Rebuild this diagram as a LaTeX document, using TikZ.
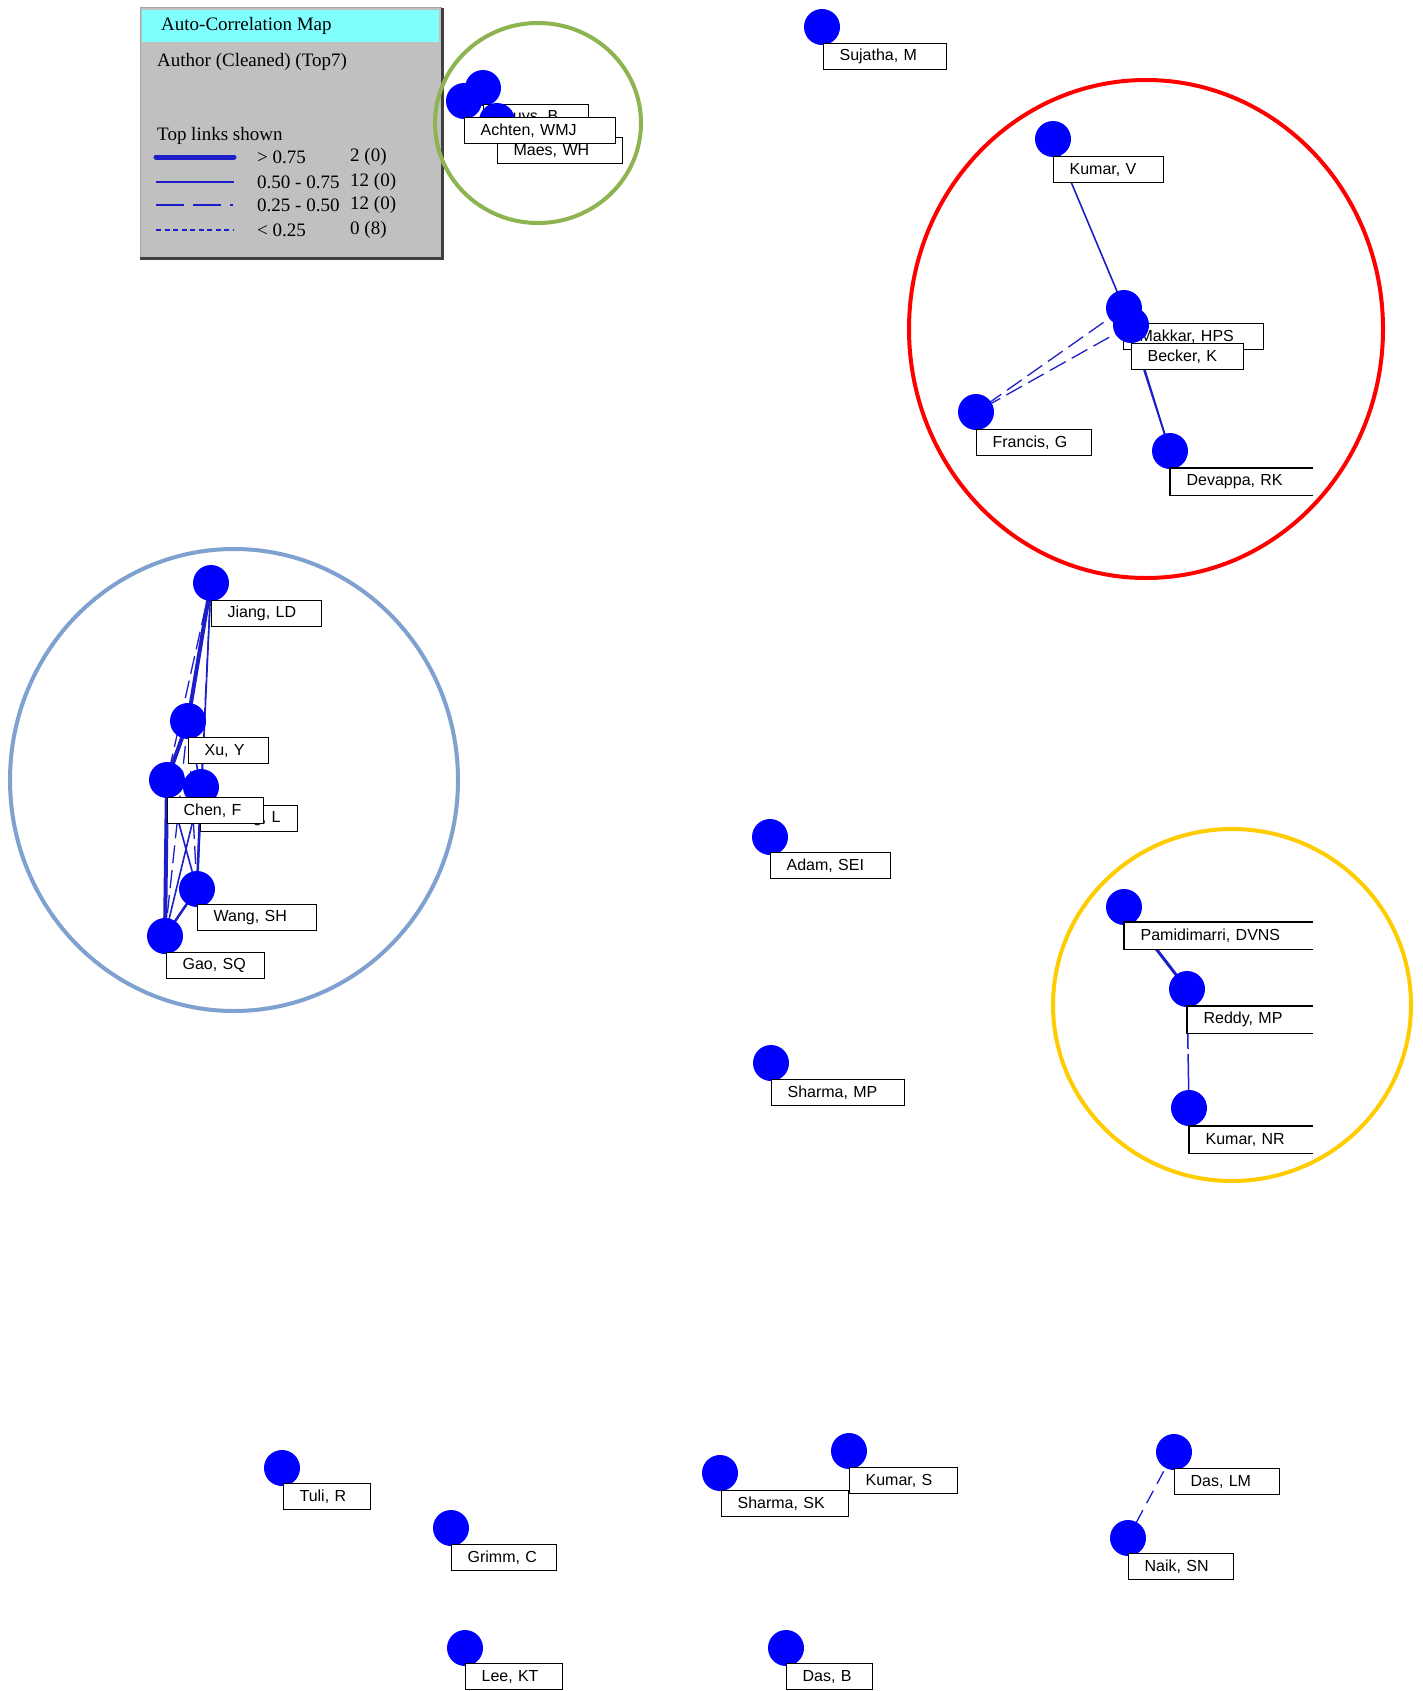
\documentclass[tikz,border=0pt]{standalone}
\usepackage{fontspec}
\setmainfont{Liberation Serif}
\newfontfamily\lsans{Liberation Sans}
\usetikzlibrary{backgrounds}
\definecolor{dotblue}{RGB}{0,0,255}
\definecolor{edgeblue}{RGB}{30,30,200}
\definecolor{redc}{RGB}{255,0,0}
\definecolor{greenc}{RGB}{141,180,80}
\definecolor{bluec}{RGB}{126,161,207}
\definecolor{yellowc}{RGB}{255,204,0}
\definecolor{legendgray}{RGB}{192,192,192}
\definecolor{cyanbar}{RGB}{128,255,255}
\begin{document}
\begin{tikzpicture}[x=1pt,y=-1pt,
  dot/.style={circle, fill=dotblue, draw=none, minimum size=36pt, inner sep=0pt},
  lbl/.style={draw=black, line width=1.2pt, fill=white, inner xsep=16pt, inner ysep=0pt,
    minimum height=26pt, anchor=north west, align=left, font=\lsans\fontsize{16}{18}\selectfont},
  lblopen/.style={lbl, draw=none},
  openline/.style={draw=black, line width=1.2pt},
  ethick/.style={draw=edgeblue, line width=4pt},
  esolid/.style={draw=edgeblue, line width=1.6pt},
  edash/.style={draw=edgeblue, line width=1.3pt, dash pattern=on 18pt off 7pt},
  legtext/.style={inner sep=0pt, anchor=west, font=\fontsize{19}{22}\selectfont},
  ring/.style={line width=4pt},
]
\useasboundingbox (0,0) rectangle (1423,1691);

% ---------------- legend ----------------
\node[fill=legendgray, draw=none, minimum width=302pt, minimum height=250pt, anchor=north west, inner sep=0pt] (legend) at (140,8) {};
\draw[black!35, line width=1pt] (legend.south west) -- (legend.north west) -- (legend.north east);
\draw[black!75, line width=2.5pt] (legend.north east) -- (legend.south east) -- (legend.south west);
\node[fill=cyanbar, draw=none, minimum width=297pt, minimum height=32pt, anchor=north west, inner sep=0pt] (titlebar) at (142,10) {};
\node[legtext] (title) at (161,26) {Auto-Correlation Map};
\node[legtext] (subtitle) at (157,62) {Author (Cleaned) (Top7)};
\node[legtext] (toplinks) at (157,136) {Top links shown};
\coordinate (la1) at (156,157); \coordinate (lb1) at (234,157);
\coordinate (la2) at (156,182); \coordinate (lb2) at (234,182);
\coordinate (la3) at (156,205); \coordinate (lb3) at (234,205);
\coordinate (la4) at (156,230); \coordinate (lb4) at (234,230);
\draw[draw=edgeblue, line width=5pt, line cap=round] (la1) -- (lb1);
\draw[draw=edgeblue, line width=1.8pt] (la2) -- (lb2);
\draw[draw=edgeblue, line width=1.8pt, dash pattern=on 28pt off 9pt on 28pt off 9pt on 3pt off 20pt] (la3) -- (lb3);
\draw[draw=edgeblue, line width=1.6pt, dash pattern=on 5pt off 3.5pt] (la4) -- (lb4);
\node[legtext] (r1a) at (257,157) {> 0.75};
\node[legtext] (r1b) at (350,157) {2 (0)};
\node[legtext] (r2a) at (257,182) {0.50 - 0.75};
\node[legtext] (r2b) at (350,182) {12 (0)};
\node[legtext] (r3a) at (257,205) {0.25 - 0.50};
\node[legtext] (r3b) at (350,205) {12 (0)};
\node[legtext] (r4a) at (257,230) {< 0.25};
\node[legtext] (r4b) at (350,230) {0 (8)};

% ---------------- green cluster ----------------
\node[dot] (muy) at (483,88) {};
\node[lbl, text width=73pt] (lmuy) at (483,104) {Muys, B};
\node[dot] (mae) at (497,121) {};
\node[lbl, text width=93pt] (lmae) at (497,137) {Maes, WH};
\node[dot] (ach) at (464,101) {};
\node[lbl, text width=119pt] (lach) at (464,117) {Achten, WMJ};

% ---------------- single nodes ----------------
\node[dot] (suj) at (822,27) {};
\node[lbl, text width=91pt] (lsuj) at (823,43) {Sujatha, M};
\node[dot] (ada) at (770,837) {};
\node[lbl, text width=88pt] (lada) at (770,852) {Adam, SEI};
\node[dot] (smp) at (771,1063) {};
\node[lbl, text width=101pt] (lsmp) at (771,1079) {Sharma, MP};
\node[dot] (tul) at (282,1468) {};
\node[lbl, text width=55pt] (ltul) at (283,1483) {Tuli, R};
\node[dot] (gri) at (451,1528) {};
\node[lbl, text width=73pt] (lgri) at (451,1544) {Grimm, C};
\node[dot] (lee) at (465,1648) {};
\node[lbl, text width=65pt] (llee) at (465,1663) {Lee, KT};
\node[dot] (dab) at (786,1648) {};
\node[lbl, text width=54pt] (ldab) at (786,1663) {Das, B};
\node[dot] (ssk) at (720,1473) {};
\node[lbl, text width=95pt] (lssk) at (721,1490) {Sharma, SK};
\node[dot] (kus) at (849,1451) {};
\node[lbl, text width=76pt] (lkus) at (849,1467) {Kumar, S};

% ---------------- Das LM / Naik ----------------
\node[dot] (dlm) at (1174,1452) {};
\node[lbl, text width=73pt] (ldlm) at (1174,1468) {Das, LM};
\node[dot] (nai) at (1128,1538) {};
\node[lbl, text width=73pt] (lnai) at (1128,1553) {Naik, SN};

% ---------------- red cluster ----------------
\node[dot] (kuv) at (1053,139) {};
\node[lbl, text width=78pt] (lkuv) at (1053,156) {Kumar, V};
\node[dot] (fra) at (976,412) {};
\node[lbl, text width=83pt] (lfra) at (976,429) {Francis, G};
\node[dot] (dev) at (1170,451) {};
\node[lblopen, text width=110pt] (ldev) at (1170,468) {Devappa, RK};
\draw[openline] (ldev.north east) -- (ldev.north west) -- (ldev.south west) -- (ldev.south east);
\node[dot] (mak) at (1124,308) {};
\node[lbl, text width=108pt] (lmak) at (1123,323) {Makkar, HPS};
\node[dot] (bec) at (1131,325) {};
\node[lbl, text width=80pt] (lbec) at (1131,343) {Becker, K};

% ---------------- blue cluster ----------------
\node[dot] (jia) at (211,583) {};
\node[lbl, text width=78pt] (ljia) at (211,600) {Jiang, LD};
\node[dot] (xuy) at (188,721) {};
\node[lbl, text width=48pt] (lxuy) at (188,737) {Xu, Y};
\node[dot] (zha) at (201,787) {};
\node[lbl, text width=65pt] (lzha) at (200,805) {Zhang, L};
\node[dot] (che) at (167,780) {};
\node[lbl, text width=64pt] (lche) at (167,797) {Chen, F};
\node[dot] (wan) at (197,889) {};
\node[lbl, text width=87pt] (lwan) at (197,904) {Wang, SH};
\node[dot] (gao) at (165,936) {};
\node[lbl, text width=66pt] (lgao) at (166,952) {Gao, SQ};

% ---------------- yellow cluster ----------------
\node[dot] (pam) at (1124,907) {};
\node[lblopen, text width=156pt] (lpam) at (1124,922) {Pamidimarri, DVNS};
\draw[openline] (lpam.north east) -- (lpam.north west) -- (lpam.south west) -- (lpam.south east);
\node[dot] (red) at (1187,989) {};
\node[lblopen, text width=93pt] (lred) at (1187,1006) {Reddy, MP};
\draw[openline] (lred.north east) -- (lred.north west) -- (lred.south west) -- (lred.south east);
\node[dot] (knr) at (1189,1108) {};
\node[lblopen, text width=91pt] (lknr) at (1189,1126) {Kumar, NR};
\draw[openline] (lknr.north east) -- (lknr.north west) -- (lknr.south west) -- (lknr.south east);

% ---------------- links (behind) ----------------
\begin{pgfonlayer}{background}
\fill[white] (0,0) rectangle (1423,1691);
\draw[esolid] (kuv.center) -- (mak.center);
\draw[edash] (mak.center) -- (fra.center);
\draw[edash] (bec.center) -- (fra.center);
\draw[esolid] (bec.center) -- (dev.center);
\draw[esolid] (mak.center) -- (dev.center);
\draw[draw=edgeblue, line width=3pt] (pam.center) -- (red.center);
\draw[draw=edgeblue, line width=1.5pt, dash pattern=on 60pt off 5pt] (red.center) -- (knr.center);
\draw[edash, dash pattern=on 14pt off 8pt] (dlm.center) -- (nai.center);
\draw[ethick] (jia.center) -- (xuy.center);
\draw[esolid] (jia.center) -- (wan.center);
\draw[edash] (jia.center) -- (zha.center);
\draw[edash] (jia.center) -- (che.center);
\draw[ethick] (xuy.center) -- (che.center);
\draw[esolid] (xuy.center) -- (zha.center);
\draw[edash] (xuy.center) -- (gao.center);
\draw[edash] (xuy.center) -- (wan.center);
\draw[ethick] (che.center) -- (gao.center);
\draw[esolid] (che.center) -- (wan.center);
\draw[esolid] (zha.center) -- (gao.center);
\draw[esolid, line width=2.5pt] (zha.center) -- (wan.center);
\draw[esolid, line width=2.5pt] (wan.center) -- (gao.center);
\end{pgfonlayer}

% ---------------- highlight rings ----------------
\draw[ring, greenc] (538,123) ellipse [x radius=103pt, y radius=100pt];
\draw[ring, redc] (1146,329) ellipse [x radius=237pt, y radius=249pt];
\draw[ring, bluec] (234,780) ellipse [x radius=224pt, y radius=231pt];
\draw[ring, yellowc] (1232,1005) ellipse [x radius=179pt, y radius=176pt];
\end{tikzpicture}
\end{document}
